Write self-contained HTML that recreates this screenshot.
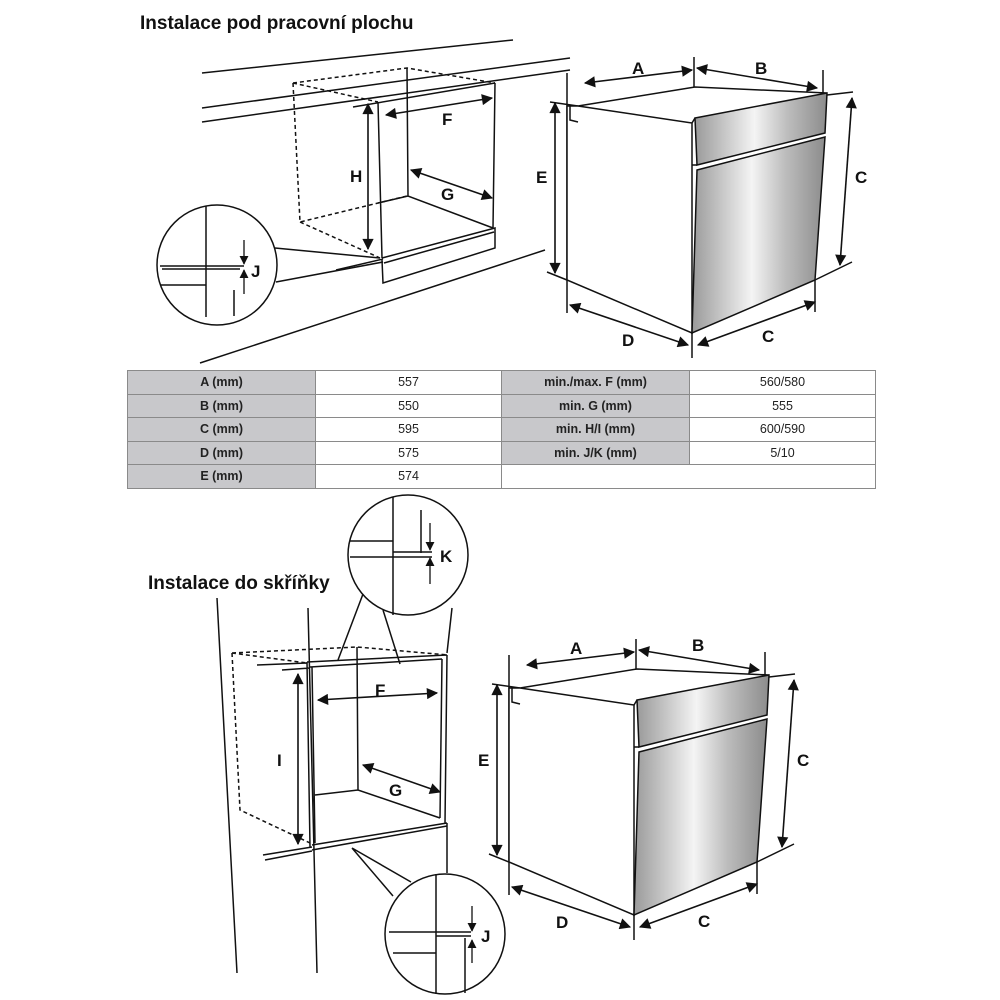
<!DOCTYPE html>
<html><head><meta charset="utf-8"><style>
body{margin:0;background:#fff;width:1000px;height:1000px;overflow:hidden}
svg{position:absolute;left:0;top:0}
text{font-family:"Liberation Sans",Arial,sans-serif;font-weight:bold;fill:#111}
.t{position:absolute;font-family:"Liberation Sans",sans-serif;font-weight:bold;font-size:19px;color:#111}
table{position:absolute;left:127px;top:370px;border-collapse:collapse;font-family:"Liberation Sans",sans-serif;font-size:12.5px;color:#222}
td{border:1px solid #8a8a8a;height:22.5px;padding:0;text-align:center}
td.g{background:#c8c8cb;font-weight:bold}
</style></head><body>
<div class="t" style="left:140px;top:13px">Instalace pod pracovní plochu</div>
<div class="t" style="left:148px;top:573px">Instalace do skříňky</div>
<svg width="1000" height="1000" viewBox="0 0 1000 1000">
<defs>
<marker id="a" viewBox="0 0 10 10" refX="9" refY="5" markerWidth="8" markerHeight="7" orient="auto-start-reverse"><path d="M0,0L10,5L0,10z" fill="#111"/></marker>
<marker id="s" viewBox="0 0 10 10" refX="9" refY="5" markerWidth="7" markerHeight="7" orient="auto"><path d="M0,0L10,5L0,10z" fill="#111"/></marker>
<linearGradient id="st" x1="0" x2="1"><stop offset="0" stop-color="#9a9a9a"/><stop offset=".45" stop-color="#f4f4f4"/><stop offset=".7" stop-color="#bdbdbd"/><stop offset="1" stop-color="#8c8c8c"/></linearGradient>
<g id="oven" stroke="#111" stroke-width="1.5" fill="none">
<path d="M567,73V313M694,57V87M823,70V93M550,102L578,106M853,92L827,95M852,262L815,280M547,272L567,280M815,280V312M692,333V358"/>
<path d="M578,106L695,87L827,93M578,106L692,123L692,333L567,280L567,106z" fill="#fff"/>
<path d="M570,106V120L578,122" />
<path d="M695,118L827,93L825,133L697,165z" fill="url(#st)"/>
<path d="M697,170L825,137L815,280L692,333z" fill="url(#st)"/>
<path d="M692,123L695,118M692,165L697,165"/>
<g stroke-width="1.6" marker-start="url(#a)" marker-end="url(#a)">
<path d="M585,83L692,70"/><path d="M697,68L817,88"/><path d="M555,103V273"/><path d="M852,98L840,265"/><path d="M570,305L688,345"/><path d="M698,345L815,302"/>
</g>
</g>
</defs>
<use href="#oven"/>
<g font-size="17"><text x="632" y="74">A</text><text x="755" y="74">B</text><text x="536" y="183">E</text><text x="855" y="183">C</text><text x="622" y="346">D</text><text x="762" y="342">C</text></g>
<use href="#oven" transform="translate(-58,582)"/>
<g font-size="17"><text x="570" y="654">A</text><text x="692" y="651">B</text><text x="478" y="766">E</text><text x="797" y="766">C</text><text x="556" y="928">D</text><text x="698" y="927">C</text></g>

<g stroke="#111" stroke-width="1.5" fill="none">
<path d="M202,73L513,40M202,108L570,58M202,122L570,70M200,363L545,250"/>
<path stroke-dasharray="4,3" d="M293,83L407,68L495,83M293,83L378,102M293,83L300,222L407,196M300,222L380,258"/>
<path d="M353,107L495,83M378,102L382,258M407,68L408,196M495,83L493,228M378,203L408,196L493,228"/>
<path d="M382,258L495,228L495,248L383,283L382,260M384,263L494,232"/>
<path d="M336,270L383,259"/>
<g stroke-width="1.6" marker-start="url(#a)" marker-end="url(#a)"><path d="M368,104V249"/><path d="M386,115L492,98"/><path d="M411,170L492,198"/></g>
<circle cx="217" cy="265" r="60" fill="#fff"/>
<path d="M275,248L380,258M276,282L383,262"/>
<path d="M206,206V317M234,290V316M160,266H244M160,285H206M206,269H240M162,269H206"/>
<path d="M244,240V264" stroke-width="1.3" marker-end="url(#s)"/><path d="M244,294V270" stroke-width="1.3" marker-end="url(#s)"/>
</g>
<g font-size="17"><text x="350" y="182">H</text><text x="442" y="125">F</text><text x="441" y="200">G</text><text x="251" y="277">J</text></g>

<g stroke="#111" stroke-width="1.5" fill="none">
<path d="M217,598L237,973M308,608L317,973M452,608L447,653M447,823L447,873"/>
<path stroke-dasharray="4,3" d="M232,653L357,647L448,655M232,653L307,663M232,653L240,810L310,843"/>
<path d="M307,662L447,655M310,667L442,659M307,662L310,847M312,667L315,843M447,655L445,823M442,659L440,818M357,647L358,790M315,795L358,790L440,818M312,845L447,823M312,850L447,826M263,855L312,847M265,860L312,851M257,665L307,663M282,670L310,668"/>
<g stroke-width="1.6" marker-start="url(#a)" marker-end="url(#a)"><path d="M298,674V844"/><path d="M318,700L437,693"/><path d="M363,765L440,792"/></g>
<circle cx="408" cy="555" r="60" fill="#fff"/>
<path d="M363,594L338,660M383,610L400,664"/>
<path d="M393,497V615M421,510V553M350,541H393M350,557H432M393,552H432"/>
<path d="M430,523V550" stroke-width="1.3" marker-end="url(#s)"/><path d="M430,584V558" stroke-width="1.3" marker-end="url(#s)"/>
<circle cx="445" cy="934" r="60" fill="#fff"/>
<path d="M352,848L393,896M352,848L411,882"/>
<path d="M436,874V994M465,938V993M389,932H471M393,953H436M436,936H471"/>
<path d="M472,906V931" stroke-width="1.3" marker-end="url(#s)"/><path d="M472,963V940" stroke-width="1.3" marker-end="url(#s)"/>
</g>
<g font-size="17"><text x="277" y="766">I</text><text x="375" y="696">F</text><text x="389" y="796">G</text><text x="440" y="562">K</text><text x="481" y="942">J</text></g>
</svg>
<table>
<tr><td class="g" style="width:187px">A (mm)</td><td style="width:185px">557</td><td class="g" style="width:187px">min./max. F (mm)</td><td style="width:185px">560/580</td></tr>
<tr><td class="g">B (mm)</td><td>550</td><td class="g">min. G (mm)</td><td>555</td></tr>
<tr><td class="g">C (mm)</td><td>595</td><td class="g">min. H/I (mm)</td><td>600/590</td></tr>
<tr><td class="g">D (mm)</td><td>575</td><td class="g">min. J/K (mm)</td><td>5/10</td></tr>
<tr><td class="g">E (mm)</td><td>574</td><td colspan="2"></td></tr>
</table>
</body></html>
